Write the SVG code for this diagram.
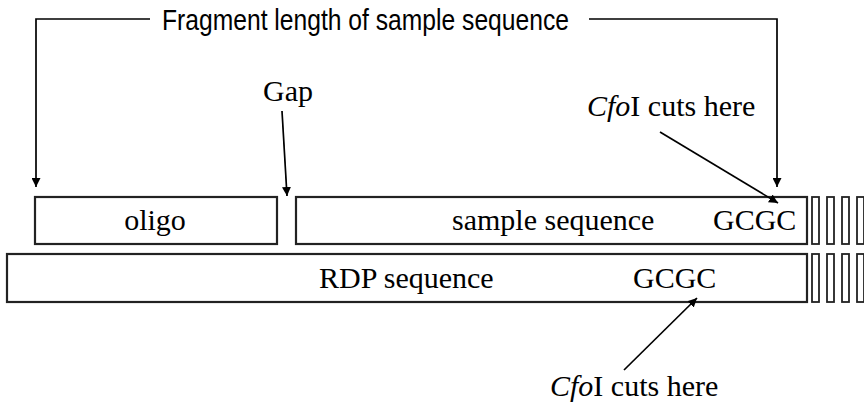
<svg xmlns="http://www.w3.org/2000/svg" width="864" height="403" viewBox="0 0 864 403">
<defs>
<style>
.box{fill:#fff;stroke:#222;stroke-width:2.2}
.bar{fill:#fff;stroke:#222;stroke-width:1.8}
.ln{fill:none;stroke:#000;stroke-width:1.7}
.ser{font-family:"Liberation Serif","Times New Roman",serif;font-size:30px;fill:#000}
.sans{font-family:"Liberation Sans",Arial,sans-serif;font-size:30px;fill:#000}
</style>
<marker id="ah" viewBox="0 0 10 10" refX="10" refY="5" markerWidth="9" markerHeight="9" markerUnits="userSpaceOnUse" orient="auto">
<path d="M0,0 L10,5 L0,10 Z" fill="#000"/>
</marker>
</defs>
<g id="oligo">
<rect class="box" x="35" y="197" width="242" height="47"/>
<text class="ser" x="155" y="230" text-anchor="middle">oligo</text>
</g>
<g id="sample">
<rect class="box" x="296" y="197" width="511" height="47"/>
<text class="ser" x="452" y="230">sample sequence</text>
<text class="ser" x="713" y="230">GCGC</text>
</g>
<g id="sample-bars">
<rect class="bar" x="812" y="197" width="7" height="47"/>
<rect class="bar" x="827" y="197" width="7" height="47"/>
<rect class="bar" x="842" y="197" width="7" height="47"/>
<rect class="bar" x="857" y="197" width="7" height="47"/>
</g>
<g id="rdp">
<rect class="box" x="7" y="254" width="800" height="48"/>
<text class="ser" x="319" y="288">RDP sequence</text>
<text class="ser" x="633" y="288">GCGC</text>
</g>
<g id="rdp-bars">
<rect class="bar" x="812" y="254" width="7" height="48"/>
<rect class="bar" x="827" y="254" width="7" height="48"/>
<rect class="bar" x="842" y="254" width="7" height="48"/>
<rect class="bar" x="857" y="254" width="7" height="48"/>
</g>
<g id="fragment-label">
<text class="sans" x="162" y="30" textLength="407" lengthAdjust="spacingAndGlyphs">Fragment length of sample sequence</text>
</g>
<g id="gap-label">
<text class="ser" x="288" y="101" text-anchor="middle">Gap</text>
</g>
<g id="cfo-top-label">
<text class="ser" x="587" y="116"><tspan font-style="italic">Cfo</tspan>I cuts here</text>
</g>
<g id="cfo-bottom-label">
<text class="ser" x="550" y="396"><tspan font-style="italic">Cfo</tspan>I cuts here</text>
</g>
<g id="connectors">
<path class="ln" d="M150,19 H36 V187" marker-end="url(#ah)"/>
<path class="ln" d="M589,19 H777 V187" marker-end="url(#ah)"/>
<line class="ln" x1="282" y1="111" x2="287" y2="196" marker-end="url(#ah)"/>
<line class="ln" x1="660" y1="132" x2="778" y2="203" marker-end="url(#ah)"/>
<line class="ln" x1="624" y1="370" x2="697" y2="298" marker-end="url(#ah)"/>
</g>
</svg>
